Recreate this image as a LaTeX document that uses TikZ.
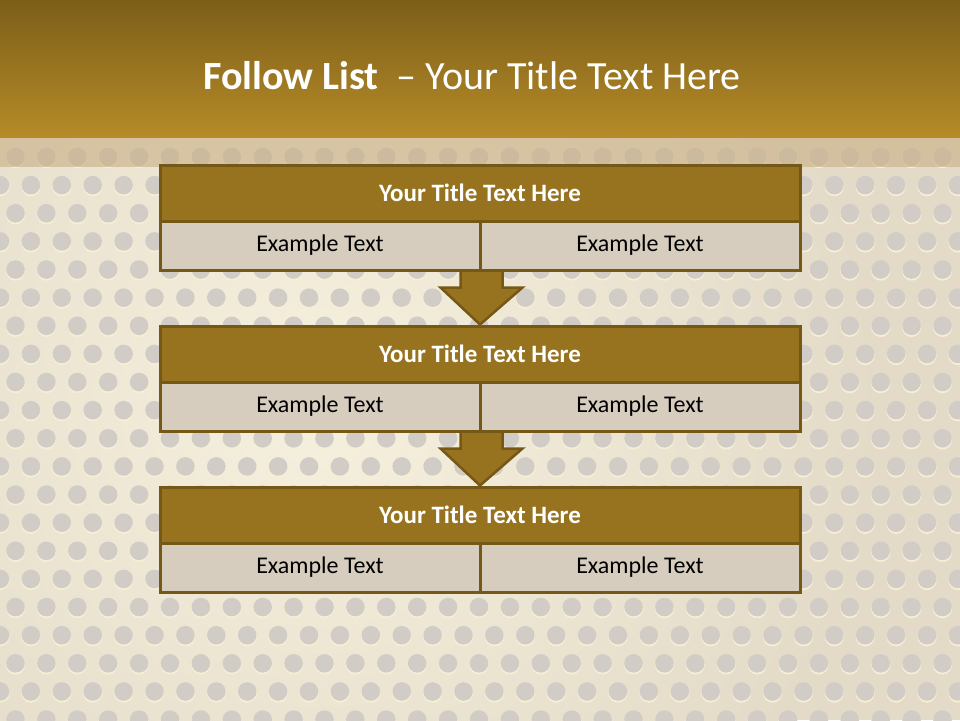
\documentclass[tikz,border=0pt]{standalone}
\usepackage{fontspec}
\setmainfont{Carlito}
\usepackage{tikz}
\usetikzlibrary{calc}
\definecolor{headdark}{HTML}{7C5E19}
\definecolor{headlight}{HTML}{B68B28}
\definecolor{stripcolor}{HTML}{C9AE84}
\definecolor{bgbase}{HTML}{E3DBC8}
\definecolor{bglight}{HTML}{F6F0DE}
\definecolor{dotcolor}{HTML}{D1CDC6}
\definecolor{dotrim}{HTML}{F7EED6}
\definecolor{titlefill}{HTML}{977320}
\definecolor{cellfill}{HTML}{D7CDBF}
\definecolor{boxline}{HTML}{765816}

\tikzset{
  titlebox/.style={draw=boxline, line width=3pt, fill=titlefill, rectangle, minimum width=640pt, minimum height=56pt, inner sep=0pt, text=white, font=\fontsize{25pt}{30pt}\selectfont\bfseries},
  cellbox/.style={draw=boxline, line width=3pt, fill=cellfill, rectangle, minimum width=320pt, minimum height=49pt, inner sep=0pt, text=black, font=\fontsize{24pt}{29pt}\selectfont},
  flowarrow/.style={draw=boxline, line width=2.5pt, fill=titlefill, line join=miter},
}

\begin{document}
\begin{tikzpicture}[x=1pt, y=-1pt]%
\useasboundingbox (0,0) rectangle (960,720);%
\begin{scope}
\clip (0,0) rectangle (960,720);%
% background with light centre
\fill[bgbase] (0,0) rectangle (960,720);%
\shade[inner color=bglight, outer color=bgbase] (320,400) circle (560);%
% dot pattern
\foreach \r in {0,...,20} {%
  \pgfmathsetmacro{\yy}{157+28.13*\r}%
  \pgfmathsetmacro{\off}{mod(\r,2)==0 ? 15.5 : 0}%
  \foreach \c in {0,...,31} {%
    \fill[dotrim] (\off+30.9*\c, \yy+1.6) circle (9.6);%
    \fill[dotcolor] (\off+30.9*\c, \yy) circle (9.3);%
  }%
}%
\end{scope}
% tan strip under the header
\fill[stripcolor, opacity=0.6] (0,137) rectangle (960,167);%
% header band
\shade[top color=headdark, bottom color=headlight] (0,0) rectangle (960,137);%
\node[text=white, font=\fontsize{40pt}{48pt}\selectfont, inner sep=0pt] (heading) at (472,76) {\textbf{Follow List}\ \ – Your Title Text Here};%
% boxes
\foreach \i/\y in {1/165, 2/326, 3/487} {%
  \node[titlebox] (title\i) at (480,\y+28) {Your Title Text Here};%
  \node[cellbox] (left\i) at (320,\y+80.5) {Example Text};%
  \node[cellbox] (right\i) at (640,\y+80.5) {Example Text};%
}%
% arrows between the boxes
\foreach \i/\j in {1/2, 2/3} {%
  \draw[flowarrow] ($(left\i.south east)+(-21,-2)$) -- ($(left\i.south east)+(-21,16)$) -- ($(left\i.south east)+(-41,16)$) -- (title\j.north) -- ($(left\i.south east)+(41,16)$) -- ($(left\i.south east)+(21,16)$) -- ($(left\i.south east)+(21,-2)$);%
}%
% redraw the bottom border of the cells over the arrow stems
\foreach \i in {1,2} {%
  \draw[boxline, line width=3pt] ($(left\i.south west)+(0,-1.5)$) -- ($(right\i.south east)+(0,-1.5)$);%
}%
\end{tikzpicture}
\end{document}
